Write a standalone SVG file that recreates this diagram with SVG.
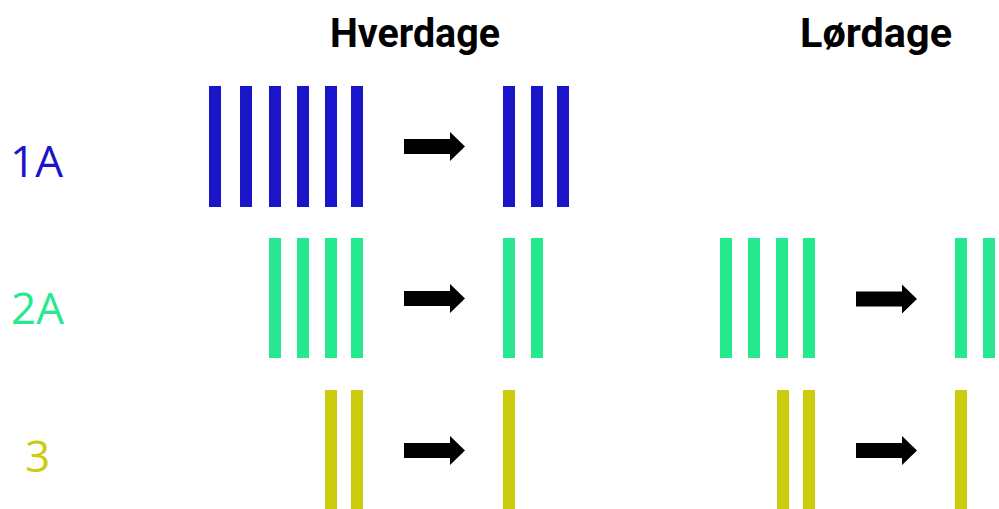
<svg xmlns="http://www.w3.org/2000/svg" width="999" height="509" viewBox="0 0 999 509">
<defs>
<style>
.b1{fill:#1B15C9}
.b2{fill:#26E88E}
.b3{fill:#CCCC0E}
.title{font-family:Roboto,"Liberation Sans",sans-serif;font-weight:700;font-size:41px;fill:#000}
.lbl{font-family:"Open Sans","Noto Sans",sans-serif;font-size:44px}
</style>
<polygon id="arr" points="0,-7.5 46,-7.5 46,-14.5 61,0 46,14.5 46,7.5 0,7.5" fill="#000"/>
</defs>
<rect width="999" height="509" fill="#fff"/>
<g id="titles">
<text class="title" x="330" y="47" textLength="170" lengthAdjust="spacingAndGlyphs">Hverdage</text>
<text class="title" x="800" y="47" textLength="152" lengthAdjust="spacingAndGlyphs">Lørdage</text>
</g>
<g id="labels">
<text class="lbl" x="10" y="176.5" fill="#1B15C9">1A</text>
<text class="lbl" x="11" y="324" fill="#26E88E">2A</text>
<text class="lbl" x="25" y="472" fill="#CCCC0E">3</text>
</g>
<g id="r1-weekday-before" class="b1">
<rect x="209" y="86" width="12" height="121"/><rect x="240" y="86" width="12" height="121"/><rect x="269" y="86" width="12" height="121"/><rect x="297" y="86" width="12" height="121"/><rect x="325" y="86" width="12" height="121"/><rect x="351" y="86" width="12" height="121"/>
</g>
<g id="r1-weekday-after" class="b1">
<rect x="503" y="86" width="12" height="121"/><rect x="531" y="86" width="12" height="121"/><rect x="557" y="86" width="12" height="121"/>
</g>
<g id="r2-weekday-before" class="b2">
<rect x="269" y="238" width="12" height="120"/><rect x="297" y="238" width="12" height="120"/><rect x="325" y="238" width="12" height="120"/><rect x="351" y="238" width="12" height="120"/>
</g>
<g id="r2-weekday-after" class="b2">
<rect x="503" y="238" width="12" height="120"/><rect x="531" y="238" width="12" height="120"/>
</g>
<g id="r2-saturday-before" class="b2">
<rect x="720" y="238" width="12" height="120"/><rect x="748" y="238" width="12" height="120"/><rect x="776" y="238" width="12" height="120"/><rect x="803" y="238" width="12" height="120"/>
</g>
<g id="r2-saturday-after" class="b2">
<rect x="955" y="238" width="12" height="120"/><rect x="983" y="238" width="12" height="120"/>
</g>
<g id="r3-weekday-before" class="b3">
<rect x="325" y="390" width="12" height="120"/><rect x="351" y="390" width="12" height="120"/>
</g>
<g id="r3-weekday-after" class="b3">
<rect x="503" y="390" width="12" height="120"/>
</g>
<g id="r3-saturday-before" class="b3">
<rect x="777" y="390" width="12" height="120"/><rect x="803" y="390" width="12" height="120"/>
</g>
<g id="r3-saturday-after" class="b3">
<rect x="955" y="390" width="12" height="120"/>
</g>
<g id="connectors">
<use href="#arr" x="404" y="146.5"/>
<use href="#arr" x="404" y="298.5"/>
<use href="#arr" x="856" y="299"/>
<use href="#arr" x="404" y="450.5"/>
<use href="#arr" x="856" y="450.5"/>
</g>
</svg>
